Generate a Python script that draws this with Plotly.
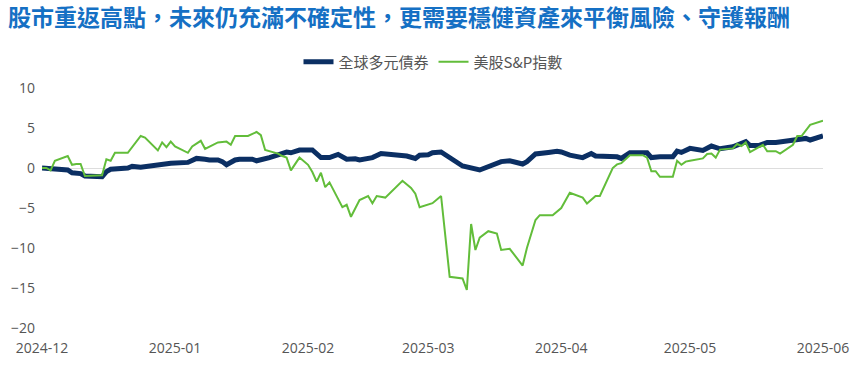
import plotly.graph_objects as go

title_text = "股市重返高點，未來仍充滿不確定性，更需要穩健資產來平衡風險、守護報酬"
series_names = ["全球多元債券", "美股S&P指數"]

bond_dates = ["2024-12-01","2024-12-04","2024-12-07","2024-12-08","2024-12-10","2024-12-11","2024-12-15","2024-12-16","2024-12-17","2024-12-21","2024-12-22","2024-12-24","2024-12-28","2024-12-30","2024-12-31",
"2025-01-04","2025-01-05","2025-01-06","2025-01-08","2025-01-09","2025-01-11","2025-01-12","2025-01-13","2025-01-15","2025-01-16","2025-01-19","2025-01-20","2025-01-21","2025-01-23","2025-01-25","2025-01-27","2025-01-28","2025-01-30",
"2025-02-02","2025-02-04","2025-02-06","2025-02-08","2025-02-10","2025-02-12","2025-02-13","2025-02-16","2025-02-18","2025-02-21","2025-02-23","2025-02-24","2025-02-26","2025-02-27",
"2025-03-01","2025-03-02","2025-03-04","2025-03-07","2025-03-09","2025-03-13","2025-03-15","2025-03-18","2025-03-20","2025-03-23","2025-03-24","2025-03-26","2025-03-29","2025-03-31",
"2025-04-01","2025-04-03","2025-04-06","2025-04-08","2025-04-09","2025-04-14","2025-04-15","2025-04-17","2025-04-21","2025-04-22","2025-04-24","2025-04-27","2025-04-28","2025-04-29",
"2025-05-01","2025-05-04","2025-05-06","2025-05-08","2025-05-11","2025-05-13","2025-05-14","2025-05-15","2025-05-17","2025-05-19","2025-05-21","2025-05-24","2025-05-26","2025-05-28","2025-05-29","2025-06-01"]
bond_values = [0.0,-0.1,-0.25,-0.6,-0.7,-1.0,-1.1,-0.45,-0.15,0.0,0.2,0.1,0.4,0.4,0.6,
0.7,0.9,1.2,1.1,1.0,1.0,0.8,0.4,1.0,1.1,1.1,0.9,1.0,1.3,1.65,2.0,1.9,2.25,
2.25,1.3,1.3,1.7,1.1,1.15,1.0,1.3,1.8,1.6,1.5,1.5,1.2,1.6,
1.65,1.9,2.0,0.9,0.25,-0.25,0.2,0.8,0.9,0.5,0.8,1.75,1.95,2.1,
2.0,1.6,1.3,1.8,1.5,1.4,1.2,1.9,1.9,1.3,1.4,1.4,2.1,1.95,
2.45,2.2,2.75,2.4,2.65,3.0,3.3,2.8,2.8,3.2,3.2,3.4,3.6,3.7,3.5,4.0]

spx_dates = ["2024-12-01","2024-12-02","2024-12-03","2024-12-04","2024-12-07","2024-12-08","2024-12-09","2024-12-10","2024-12-11","2024-12-15","2024-12-16","2024-12-17","2024-12-18","2024-12-21","2024-12-24","2024-12-25","2024-12-28","2024-12-29","2024-12-30","2024-12-31",
"2025-01-01","2025-01-04","2025-01-05","2025-01-07","2025-01-08","2025-01-11","2025-01-13","2025-01-14","2025-01-15","2025-01-18","2025-01-20","2025-01-21","2025-01-22","2025-01-25","2025-01-26","2025-01-27","2025-01-28","2025-01-30",
"2025-02-01","2025-02-02","2025-02-03","2025-02-04","2025-02-05","2025-02-06","2025-02-09","2025-02-10","2025-02-11","2025-02-13","2025-02-15","2025-02-16","2025-02-17","2025-02-19","2025-02-23","2025-02-25","2025-02-26","2025-02-27",
"2025-03-02","2025-03-03","2025-03-04","2025-03-06","2025-03-09","2025-03-10","2025-03-11","2025-03-12","2025-03-13","2025-03-15","2025-03-17","2025-03-18","2025-03-20","2025-03-23","2025-03-24","2025-03-26","2025-03-27","2025-03-30","2025-03-31",
"2025-04-01","2025-04-03","2025-04-06","2025-04-07","2025-04-09","2025-04-10","2025-04-13","2025-04-14","2025-04-15","2025-04-17","2025-04-20","2025-04-21","2025-04-22","2025-04-23","2025-04-24","2025-04-27","2025-04-28","2025-04-29","2025-04-30",
"2025-05-01","2025-05-04","2025-05-05","2025-05-06","2025-05-07","2025-05-08","2025-05-11","2025-05-12","2025-05-13","2025-05-14","2025-05-15","2025-05-18","2025-05-19","2025-05-21","2025-05-22","2025-05-25","2025-05-26","2025-05-27","2025-05-29","2025-06-01"]
spx_values = [0.0,0.0,-0.3,0.9,1.5,0.4,0.5,0.5,-1.0,-0.9,1.1,0.9,1.9,1.9,4.0,3.8,2.2,3.2,2.6,3.3,
2.7,1.9,2.7,3.4,2.4,3.2,3.3,2.9,4.0,4.0,4.5,4.1,2.25,1.8,1.5,1.3,-0.3,1.3,
0.4,-0.5,-1.7,-0.6,-2.4,-1.8,-4.9,-4.6,-6.1,-4.0,-3.5,-4.4,-3.5,-3.7,-1.6,-2.5,-3.2,-4.9,
-4.4,-4.0,-3.5,-13.6,-13.8,-15.25,-7.0,-10.25,-8.7,-7.9,-8.2,-10.25,-10.1,-12.2,-10.0,-6.5,-5.9,-5.9,-5.5,
-5.0,-3.1,-3.7,-4.45,-3.5,-3.5,0.0,0.45,0.6,1.6,1.6,1.3,-0.4,-0.4,-1.1,-1.1,0.9,0.4,0.8,
0.9,1.2,1.75,1.8,1.3,2.3,2.45,3.0,2.75,3.2,2.0,2.9,2.1,2.1,1.8,2.9,4.0,4.0,5.4,5.9]

y_ticks = [10, 5, 0, -5, -10, -15, -20]

fig = go.Figure()
fig.add_trace(go.Scatter(x=bond_dates, y=bond_values, mode="lines", name=series_names[0],
                         line=dict(color="#0b2f63", width=5)))
fig.add_trace(go.Scatter(x=spx_dates, y=spx_values, mode="lines", name=series_names[1],
                         line=dict(color="#62bd3a", width=2)))

fig.update_layout(
    width=866, height=368,
    margin=dict(l=42, r=43, t=88, b=40, autoexpand=False),
    paper_bgcolor="white", plot_bgcolor="white",
    font=dict(family="Open Sans, Noto Sans CJK TC, sans-serif", size=14, color="#555555"),
    title=dict(text=title_text, x=0, xref="container", xanchor="left",
               y=1 - 18/368, yref="container", yanchor="middle",
               pad=dict(l=8, r=0, t=0, b=0),
               font=dict(family="Noto Sans CJK TC, sans-serif", size=23, color="#1570c4", weight="bold")),
    legend=dict(orientation="h", x=0.5, xanchor="center", xref="container",
                y=1 - 62/368, yanchor="middle", yref="container",
                font=dict(family="Noto Sans CJK TC, sans-serif", size=15, color="#555555"),
                itemwidth=30, bgcolor="rgba(0,0,0,0)"),
    showlegend=True,
)
fig.update_xaxes(type="date", range=["2024-12-01", "2025-06-01"], dtick="M1", tickformat="%Y-%m",
                 showgrid=False, zeroline=False, showline=False, ticks="", automargin=False,
                 ticklabelstandoff=10,
                 tickfont=dict(size=14, color="#555555"))
fig.update_yaxes(range=[-20, 10], tickvals=y_ticks, showgrid=False, zeroline=True, automargin=False,
                 zerolinecolor="#dddddd", zerolinewidth=1, showline=False, ticks="",
                 ticklabelstandoff=6,
                 tickfont=dict(size=14, color="#555555"))

fig.write_html("out.html", config={"displayModeBar": False},
               post_script="document.body.style.margin='0';")
